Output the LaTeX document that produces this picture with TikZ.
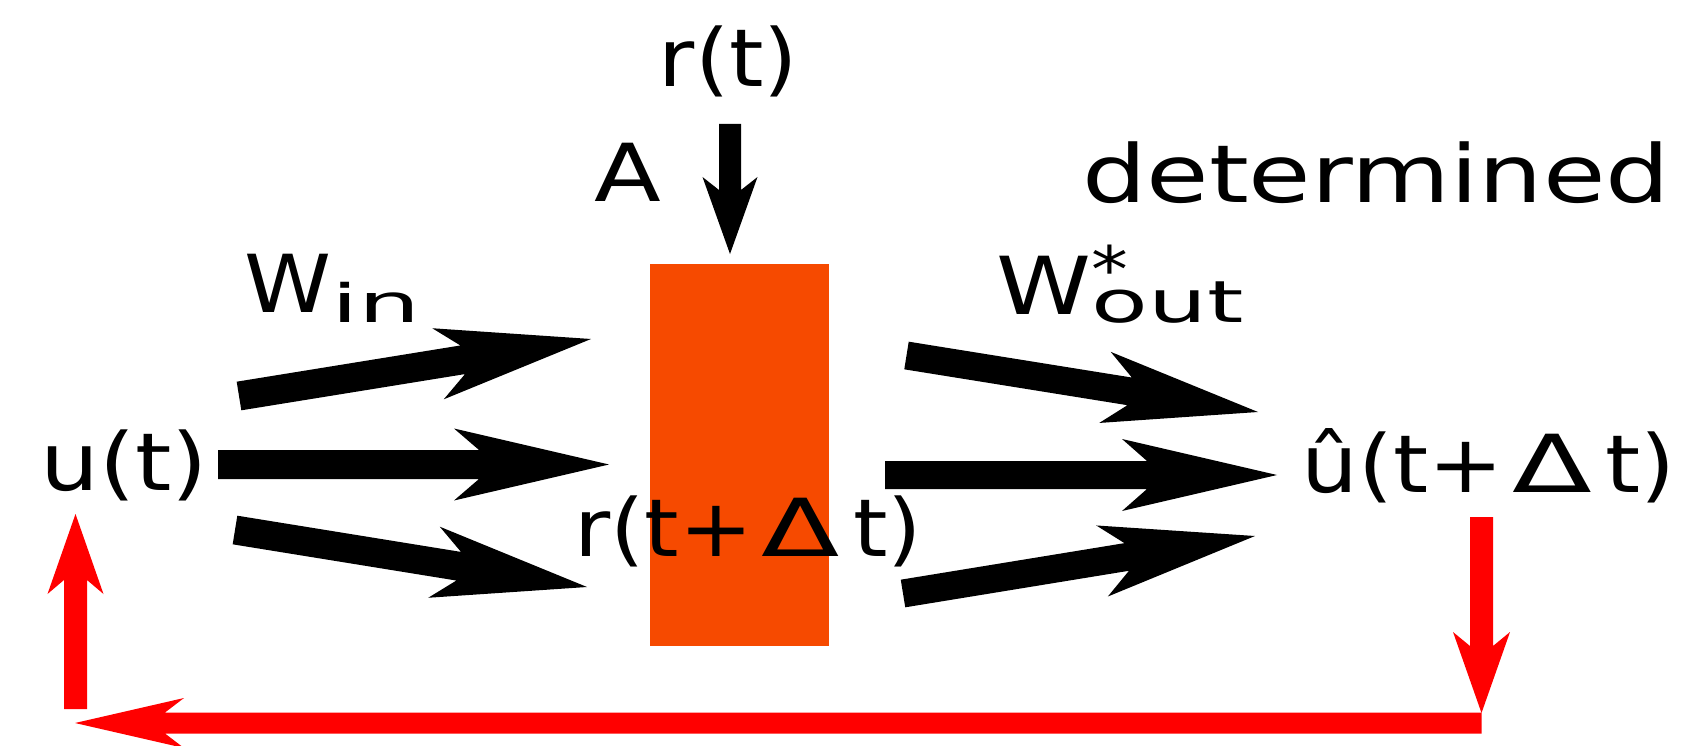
\documentclass[tikz,border=0pt]{standalone}
\usepackage{fontspec}
\usepackage{graphicx}
\setmainfont{DejaVu Sans}
\usetikzlibrary{calc}
\definecolor{resc}{RGB}{246,74,0}
\definecolor{fbred}{RGB}{255,0,0}
% #1 style, #2 tail, #3 tip, #4 half shaft, #5 head length, #6 head half width, #7 notch distance from tip
\newcommand{\fatarrow}[7]{%
  \coordinate (fa-n) at ($(#3)!#7!(#2)$);
  \coordinate (fa-b) at ($(#3)!#5!(#2)$);
  \fill[#1] ($(#2)!#4!90:(#3)$) -- ($(fa-n)!#4!90:(#3)$) -- ($(fa-b)!#6!90:(#3)$)
    -- (#3) -- ($(fa-b)!#6!-90:(#3)$) -- ($(fa-n)!#4!-90:(#3)$)
    -- ($(#2)!#4!-90:(#3)$) -- cycle;}
\tikzset{
  lbl/.style={inner sep=0pt, anchor=base, font=\fontsize{80}{96}\selectfont},
  wlbl/.style={inner sep=0pt, anchor=base west, font=\fontsize{80}{96}\selectfont},
  blackarrow/.style={fill=black},
  redarrow/.style={fill=fbred},
}
\begin{document}
\begin{tikzpicture}[x=1pt,y=-1pt]
\useasboundingbox (0,0) rectangle (1699,746);
% reservoir
\node (res) [fill=resc, inner sep=0pt, minimum width=179pt, minimum height=382pt, anchor=north west] at (650,264) {};
% arrow end points
\coordinate (ul-t) at (239,396);   \coordinate (ul-h) at (591,339);
\coordinate (ml-t) at (218,464.5); \coordinate (ml-h) at (609,464.5);
\coordinate (ll-t) at (235,530);   \coordinate (ll-h) at (587,587);
\coordinate (ur-t) at (906.5,355.5); \coordinate (ur-h) at (1258,412);
\coordinate (mr-t) at (885,475);   \coordinate (mr-h) at (1277,475);
\coordinate (lr-t) at (903,593.5); \coordinate (lr-h) at (1255,536);
\coordinate (top-t) at (730,124);  \coordinate (top-h) at (730,254);
\coordinate (fbr-t) at (1481.5,517); \coordinate (fbr-h) at (1481.5,713);
\coordinate (fbb-t) at (1481.5,723); \coordinate (fbb-h) at (75,723);
\coordinate (fbl-t) at (75.5,709); \coordinate (fbl-h) at (75.5,514);
% black arrows
\fatarrow{blackarrow}{ul-t}{ul-h}{14.5pt}{155pt}{36pt}{130pt}
\fatarrow{blackarrow}{ml-t}{ml-h}{14.5pt}{155pt}{36pt}{130pt}
\fatarrow{blackarrow}{ll-t}{ll-h}{14.5pt}{155pt}{36pt}{130pt}
\fatarrow{blackarrow}{ur-t}{ur-h}{14pt}{155pt}{36pt}{130pt}
\fatarrow{blackarrow}{mr-t}{mr-h}{14pt}{155pt}{36pt}{130pt}
\fatarrow{blackarrow}{lr-t}{lr-h}{14pt}{155pt}{36pt}{130pt}
\fatarrow{blackarrow}{top-t}{top-h}{11pt}{77pt}{27.5pt}{64pt}
% red feedback arrows
\fatarrow{redarrow}{fbr-t}{fbr-h}{11.5pt}{81pt}{28.5pt}{67pt}
\fatarrow{redarrow}{fbb-t}{fbb-h}{10.5pt}{109pt}{25pt}{90pt}
\fatarrow{redarrow}{fbl-t}{fbl-h}{11.5pt}{80pt}{28pt}{66pt}
% labels
\node[lbl] (rt) at (728.5,87) {\scalebox{1.1}[1]{r(t)}};
\node[lbl] (A) at (627.5,201) {\scalebox{1.22}[1]{A}};
\node[wlbl] (Win) at (244,312) {\scalebox{1.1}[1]{W}\raisebox{-10pt}{\fontsize{53}{64}\selectfont\scalebox{1.85}[1]{in}}};
\node[lbl] (determined) at (1376,203) {\scalebox{1.27}[1]{determined}};
\node[wlbl] (Wout) at (996.5,314) {\scalebox{1.2}[1]{W}\rlap{\raisebox{22pt}{\fontsize{64}{72}\selectfont\scalebox{1.15}[1]{*}}}\raisebox{-8pt}{\fontsize{58}{68}\selectfont\scalebox{1.6}[1]{out}}};
\node[lbl] (ut) at (124,490) {\scalebox{1.16}[1]{u(t)}};
\node[lbl] (rtdt) at (748,556) {\scalebox{1.1}[1]{r(t+\kern8pt\scalebox{1.3}[1]{Δ}\kern12pt t)}};
\node[lbl] (uhat) at (1488.5,492) {\scalebox{1.12}[1]{û(t+\kern8pt\scalebox{1.3}[1]{Δ}\kern12pt t)}};
\end{tikzpicture}
\end{document}
